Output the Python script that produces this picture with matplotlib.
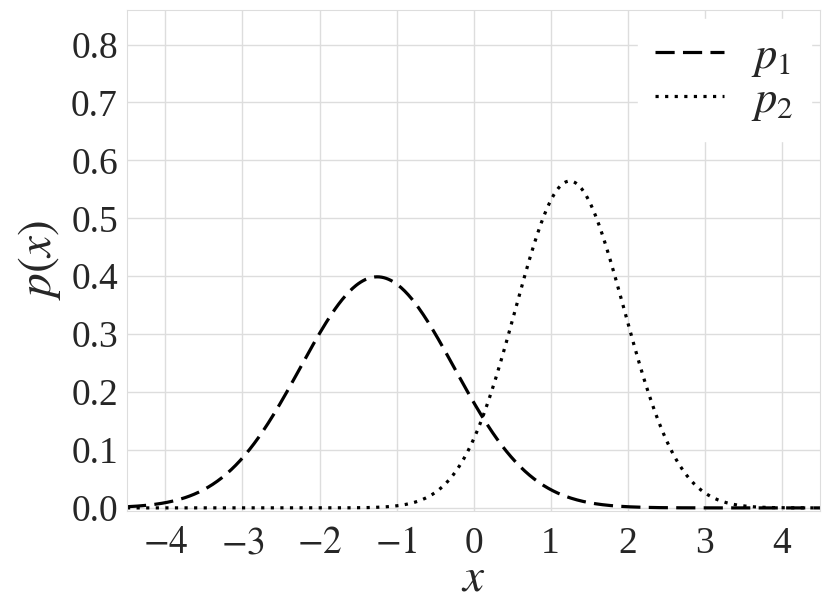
import numpy as np
import matplotlib.pyplot as plt
import seaborn as sns

# Gaussian parameters (peak heights 0.40 and ~0.565)
mu1, sigma1 = -1.25, 1.0
mu2, sigma2 = 1.25, 0.707
labels = [r'$p_1$', r'$p_2$']
x_ticks = [-4, -3, -2, -1, 0, 1, 2, 3, 4]
y_ticks = [0.0, 0.1, 0.2, 0.3, 0.4, 0.5, 0.6, 0.7, 0.8]


def gauss(x, mu, s):
    return np.exp(-0.5 * ((x - mu) / s) ** 2) / (s * np.sqrt(2 * np.pi))


sns.set_style('whitegrid')
plt.rcParams['font.family'] = ['Liberation Serif', 'DejaVu Serif']
plt.rcParams['mathtext.fontset'] = 'stix'

x = np.linspace(-4.5, 4.5, 600)

fig = plt.figure(figsize=(8.3, 6.11), dpi=100)
ax = fig.add_axes([0.153, 0.164, 0.835, 0.82])
ax.plot(x, gauss(x, mu1, sigma1), ls=(0, (6, 2.6)), color='black', lw=2.3, label=labels[0])
ax.plot(x, gauss(x, mu2, sigma2), ls=(0, (1, 2.0)), color='black', lw=2.3, label=labels[1])

ax.set_xlim(-4.5, 4.5)
ax.set_ylim(-0.005, 0.86)
ax.set_xticks(x_ticks)
ax.set_yticks(y_ticks)
ax.set_xticklabels([f'${t}$' if t < 0 else str(t) for t in x_ticks])
ax.set_yticklabels([f'{t:.1f}' for t in y_ticks])
ax.tick_params(labelsize=27, pad=3)
ax.tick_params(axis='x', pad=8)
for sp in ax.spines.values():
    sp.set_color('#dddddd')
ax.grid(color='#dddddd', lw=1)
ax.set_xlabel(r'$x$', fontsize=34, labelpad=-2)
ax.set_ylabel(r'$p(x)$', fontsize=34, labelpad=6)

leg = ax.legend(loc='upper right', fontsize=32, frameon=True, framealpha=1,
                edgecolor='white', handlelength=1.55, handletextpad=0.6,
                borderaxespad=0.2, labelspacing=0.05)

fig.savefig('out.png', dpi=100)
